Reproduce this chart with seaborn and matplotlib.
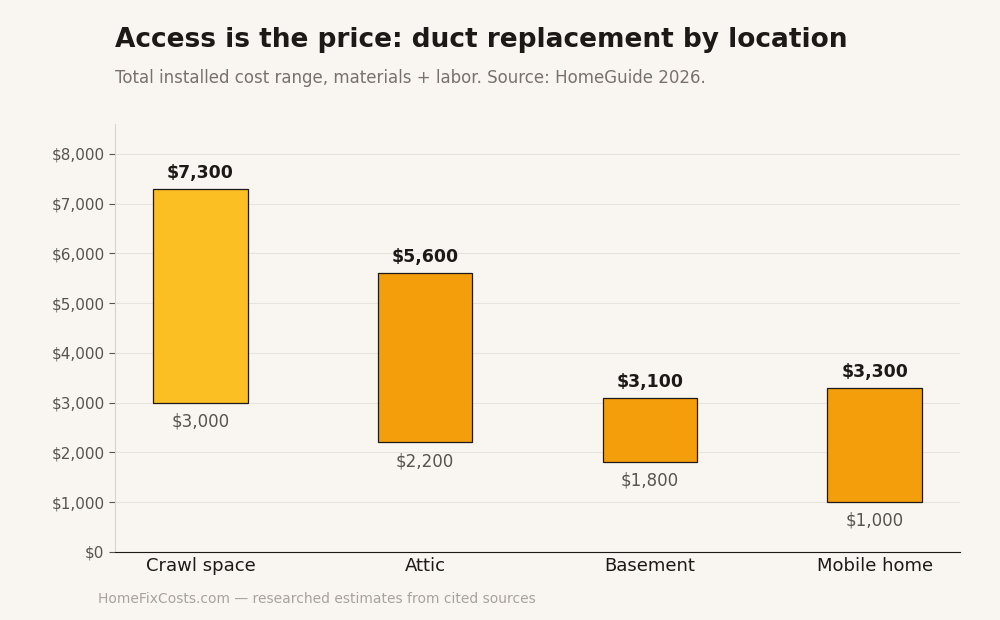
import matplotlib
matplotlib.use("Agg")
import matplotlib.pyplot as plt
import seaborn as sns
from matplotlib.ticker import FuncFormatter

# Cost ranges by duct location (HomeGuide 2026)
locations = ["Crawl space", "Attic", "Basement", "Mobile home"]
low_cost = [3000, 2200, 1800, 1000]
high_cost = [7300, 5600, 3100, 3300]
bar_colors = ["#FBBF24", "#F59E0B", "#F59E0B", "#F59E0B"]

spans = [h - l for h, l in zip(high_cost, low_cost)]

bg = "#F9F6F1"
sns.set_style("white")
plt.rcParams['font.family'] = ['DejaVu Sans']

fig = plt.figure(figsize=(10, 6.2), dpi=100, facecolor=bg)
ax = fig.add_axes([0.115, 0.110, 0.845, 0.690])
ax.set_facecolor(bg)

# floating bars: height = range, bottom = low estimate
sns.barplot(x=locations, y=spans, bottom=low_cost, color="#F59E0B",
            width=0.42, edgecolor="#1c1917", linewidth=0.9,
            errorbar=None, saturation=1, ax=ax, zorder=3)
for patch, c in zip(ax.patches, bar_colors):
    patch.set_facecolor(c)

for i, (lo, hi) in enumerate(zip(low_cost, high_cost)):
    ax.annotate(f"${hi:,}", (i, hi), xytext=(0, 5), textcoords="offset points",
                ha="center", va="bottom", fontsize=12.5, fontweight="bold", color="#1c1917")
    ax.annotate(f"${lo:,}", (i, lo), xytext=(0, -7), textcoords="offset points",
                ha="center", va="top", fontsize=12, color="#57534e")

ax.set_ylim(0, 8600)
ax.set_xlim(-0.38, 3.38)
ax.set_yticks(range(0, 8001, 1000))
ax.yaxis.set_major_formatter(FuncFormatter(lambda v, p: f"${int(v):,}"))
ax.grid(axis="y", color="#e7e3dd", linewidth=0.8, zorder=0)
ax.set_axisbelow(True)

for side in ["top", "right"]:
    ax.spines[side].set_visible(False)
ax.spines["left"].set_color("#d6d3d1")
ax.spines["bottom"].set_color("#1c1917")
ax.tick_params(axis="y", labelsize=11, labelcolor="#57534e", color="#57534e", length=4, left=True)
ax.tick_params(axis="x", labelsize=13, labelcolor="#1c1917", length=0, pad=4)
ax.set_xlabel("")
ax.set_ylabel("")

fig.text(0.115, 0.924, "Access is the price: duct replacement by location",
         fontsize=19, fontweight="bold", color="#1c1917", ha="left", va="baseline")
fig.text(0.115, 0.866, "Total installed cost range, materials + labor. Source: HomeGuide 2026.",
         fontsize=12, color="#78716c", ha="left", va="baseline")
fig.text(0.098, 0.028, "HomeFixCosts.com \u2014 researched estimates from cited sources",
         fontsize=10, color="#a8a29e", ha="left", va="baseline")

fig.savefig("out.png", dpi=100, facecolor=bg)
